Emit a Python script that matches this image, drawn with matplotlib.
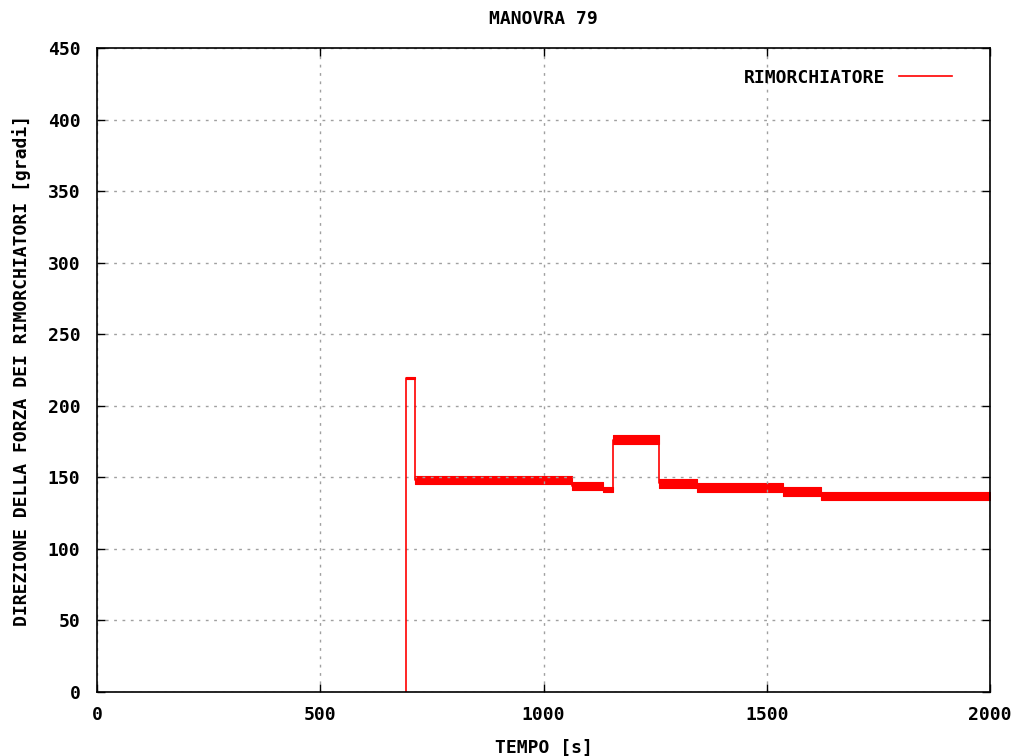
import matplotlib
matplotlib.use('Agg')
import matplotlib.pyplot as plt
from matplotlib.lines import Line2D

# segments of the tug force direction (time in s, band low/high in degrees)
seg_start = [692, 713, 1063, 1134, 1156, 1259, 1343, 1537, 1621]
seg_end = [713, 1063, 1134, 1156, 1259, 1343, 1537, 1621, 2000]
seg_lo = [219, 145, 141, 139.5, 173, 142.5, 140, 137, 134]
seg_hi = [220, 151, 147, 143.5, 179.5, 149, 146, 143, 140]

xticks = [0, 500, 1000, 1500, 2000]
yticks = list(range(0, 451, 50))

font = {'family': 'DejaVu Sans Mono', 'weight': 'bold', 'size': 13}
red = '#ff0000'

fig = plt.figure(figsize=(10.23, 7.56), dpi=100)
ax = fig.add_axes([0.0948, 0.0847, 0.873, 0.8518])

# thin trace through the middle of each band, starting from 0
tx = [seg_start[0]]
ty = [0]
for s, e, lo, hi in zip(seg_start, seg_end, seg_lo, seg_hi):
    mid = (lo + hi) / 2
    tx += [s, e]
    ty += [mid, mid]
ax.plot(tx, ty, color=red, lw=1.2)

# noisy bands drawn as filled strips
for s, e, lo, hi in zip(seg_start, seg_end, seg_lo, seg_hi):
    ax.fill_between([s, e], [lo, lo], [hi, hi], color=red, lw=0.8, edgecolor=red)

ax.set_xlim(0, 2000)
ax.set_ylim(0, 450)
ax.set_xticks(xticks)
ax.set_yticks(yticks)
ax.set_xticklabels([str(v) for v in xticks], fontdict=font)
ax.set_yticklabels([str(v) for v in yticks], fontdict=font)
ax.tick_params(direction='in', length=6, width=1, top=True, right=True,
               labeltop=False, labelright=False)
ax.tick_params(axis='x', pad=10)
ax.tick_params(axis='y', pad=12)
ax.grid(True, color='#a0a0a0', linestyle=(0, (2, 4)), lw=1)
for sp in ax.spines.values():
    sp.set_linewidth(1.2)

ax.set_title('MANOVRA 79', fontdict=font, pad=17)
ax.set_xlabel('TEMPO [s]', fontdict=font, labelpad=11)
ax.set_ylabel('DIREZIONE DELLA FORZA DEI RIMORCHIATORI [gradi]', fontdict=font, labelpad=12)

handle = Line2D([], [], color=red, lw=1.2)
leg = ax.legend([handle], ['RIMORCHIATORE'], loc='upper right', frameon=False,
                markerfirst=False, prop=font, handlelength=2.9, handletextpad=0.78,
                borderpad=0, borderaxespad=0, bbox_to_anchor=(0.957, 0.968))

fig.savefig('out.png', dpi=100)
